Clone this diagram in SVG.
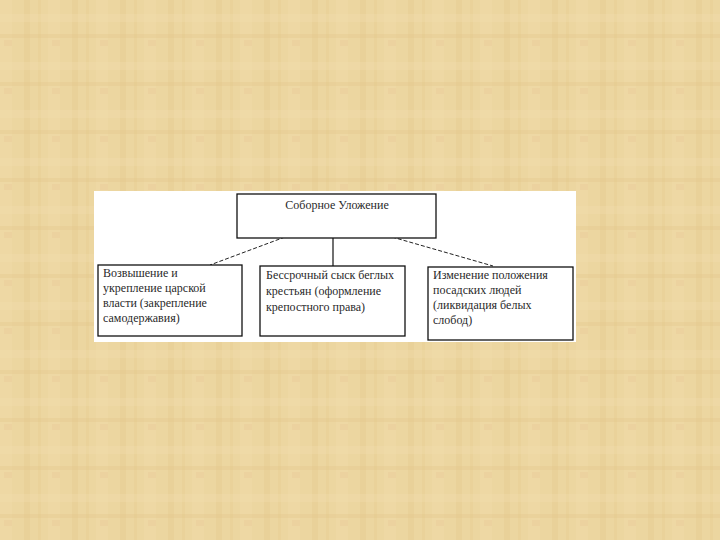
<svg xmlns="http://www.w3.org/2000/svg" width="720" height="540" viewBox="0 0 720 540">
<defs>
<pattern id="papyrus" x="0" y="0" width="48" height="48" patternUnits="userSpaceOnUse">
<rect width="48" height="48" fill="#ECD6A0"/>
<rect x="0" y="0" width="12" height="48" fill="#F0DCAA" opacity="0.4"/>
<rect x="24" y="0" width="6" height="48" fill="#E3C98C" opacity="0.35"/>
<rect x="38" y="0" width="3" height="48" fill="#E6CC90" opacity="0.4"/>
<rect x="0" y="14" width="48" height="8" fill="#F2DFB0" opacity="0.3"/>
<rect x="0" y="34" width="48" height="4" fill="#E2C68A" opacity="0.3"/>
<rect x="4" y="40" width="8" height="6" fill="#E7C594" opacity="0.35"/>
</pattern>
<style>
.box{fill:#FFFFFF;stroke:#111111;stroke-width:1.3}
.lbl{font-family:"Liberation Serif","Times New Roman",serif;font-size:12px;fill:#2a2a2a}
.dash{stroke:#222222;stroke-width:1;stroke-dasharray:4 2;fill:none}
.solid{stroke:#111111;stroke-width:1.2;fill:none}
</style>
</defs>
<rect width="720" height="540" fill="url(#papyrus)"/>
<rect x="94" y="191" width="482" height="151" fill="#FFFFFF"/>
<g id="connectors">
<line class="dash" x1="285" y1="237" x2="210" y2="265"/>
<line class="solid" x1="333" y1="238" x2="333" y2="266"/>
<line class="dash" x1="392" y1="237" x2="493" y2="266"/>
</g>
<g id="root">
<rect class="box" x="237" y="194" width="199" height="44"/>
<text class="lbl" x="337" y="209" text-anchor="middle">Соборное Уложение</text>
</g>
<g id="node-left">
<rect class="box" x="98" y="265" width="144" height="71"/>
<text class="lbl" x="103" y="277">Возвышение и</text>
<text class="lbl" x="103" y="292">укрепление царской</text>
<text class="lbl" x="103" y="307">власти (закрепление</text>
<text class="lbl" x="103" y="322">самодержавия)</text>
</g>
<g id="node-middle">
<rect class="box" x="260" y="266" width="145" height="70"/>
<text class="lbl" x="266" y="279">Бессрочный сыск беглых</text>
<text class="lbl" x="266" y="295">крестьян (оформление</text>
<text class="lbl" x="266" y="311">крепостного права)</text>
</g>
<g id="node-right">
<rect class="box" x="428" y="267" width="145" height="73"/>
<text class="lbl" x="433" y="279">Изменение положения</text>
<text class="lbl" x="433" y="294">посадских людей</text>
<text class="lbl" x="433" y="309">(ликвидация белых</text>
<text class="lbl" x="433" y="324">слобод)</text>
</g>
</svg>
